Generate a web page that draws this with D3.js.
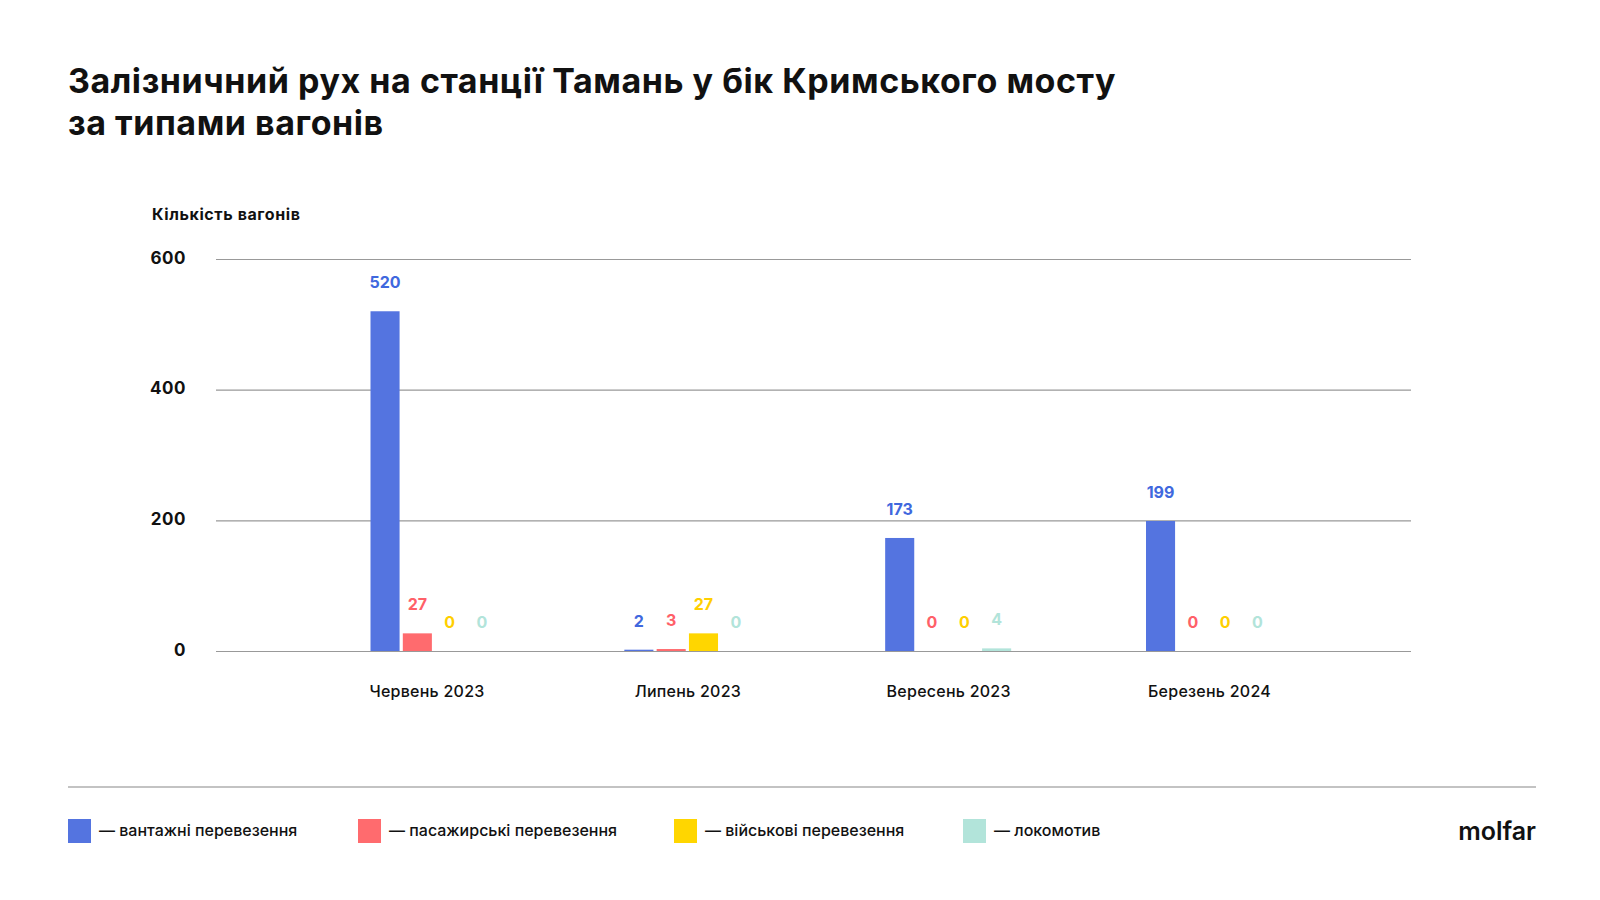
<!DOCTYPE html>
<meta charset="utf-8">
<style>
body { margin: 0; background: #fff; }
text { font-family: Inter, "Noto Sans", sans-serif; fill: #111; }
.title { font-size: 34px; font-weight: 700; letter-spacing: 0.55px; }
.axis-title { font-size: 16px; font-weight: 700; letter-spacing: 0.6px; }
.axis--y text { font-size: 17px; font-weight: 700; letter-spacing: 0.5px; }
.axis--y path, .axis--x path { display: none; }
.axis--x text { font-size: 16px; font-weight: 500; letter-spacing: 0.25px; }
.legend-label { font-size: 16px; font-weight: 500; }
.value { font-size: 16px; font-weight: 700; text-anchor: middle; }
.logo { font-size: 25px; font-weight: 600; }
</style>
<svg width="1600" height="900"></svg>
<script src="https://d3js.org/d3.v7.min.js"></script>
<script>

var titleLines = ["Залізничний рух на станції Тамань у бік Кримського мосту", "за типами вагонів"];
var yTitle = "Кількість вагонів";

var months = ["Червень 2023", "Липень 2023", "Вересень 2023", "Березень 2024"];
var yTicks = [0, 200, 400, 600];

var seriesNames = ["вантажні перевезення", "пасажирські перевезення", "військові перевезення", "локомотив"];
var freight = [520, 2, 173, 199];
var passenger = [27, 3, 0, 0];
var military = [0, 27, 0, 0];
var locomotive = [0, 0, 4, 0];

var barColors = ["#5474e0", "#ff6b6e", "#ffd600", "#b2e4da"];
var labelColors = ["#4068de", "#ff6068", "#ffcf00", "#b2e4da"];

var svg = d3.select("svg");

svg.selectAll(".title")
	.data(titleLines)
	.enter().append("text")
	.attr("class", "title")
	.attr("x", 68)
	.attr("y", function(d, i) { return 93 + i * 42; })
	.text(function(d) { return d; });

svg.append("text")
	.attr("class", "axis-title")
	.attr("x", 152)
	.attr("y", 220)
	.text(yTitle);

var plotLeft = 216, plotRight = 1411, plotTop = 259, plotBottom = 651;

var y = d3.scaleLinear().domain([0, 600]).range([plotBottom, plotTop]);

// category centres sit on an even step, scalePoint range is set from the label positions
var x = d3.scalePoint().domain(months).range([426.5, 1209]);

var inner = d3.scaleBand().domain(d3.range(4)).range([-63, 63]).paddingInner(0.1).paddingOuter(0);

var yAxis = svg.append("g")
	.attr("class", "axis axis--y")
	.attr("transform", "translate(" + plotLeft + ",0)")
	.call(d3.axisLeft(y).tickValues(yTicks).tickSize(-(plotRight - plotLeft)).tickPadding(30));
yAxis.selectAll("line").attr("stroke", "#999").attr("stroke-width", 1.2);
yAxis.selectAll("text").attr("dy", "0.25em");

var xAxis = svg.append("g")
	.attr("class", "axis axis--x")
	.attr("transform", "translate(0," + plotBottom + ")")
	.call(d3.axisBottom(x).tickSize(0).tickPadding(35));

var series = [freight, passenger, military, locomotive];

series.forEach(function(values, s) {
	var g = svg.append("g");
	months.forEach(function(m, i) {
		// the first group is shifted right of its label in the original
		var x0 = x(m) + inner(s) + (i === 0 ? 7 : 0);
		g.append("rect")
			.attr("x", x0)
			.attr("y", y(values[i]))
			.attr("width", inner.bandwidth())
			.attr("height", y(0) - y(values[i]))
			.attr("fill", barColors[s]);
		g.append("text")
			.attr("class", "value")
			.attr("x", x0 + inner.bandwidth() / 2)
			.attr("y", y(values[i]) - 23)
			.style("fill", labelColors[s])
			.text(values[i]);
	});
});

svg.append("line")
	.attr("x1", 68).attr("x2", 1536)
	.attr("y1", 787).attr("y2", 787)
	.attr("stroke", "#888").attr("stroke-width", 1.2);

var legendX = [68, 358, 674, 963];

var legend = svg.selectAll(".legend")
	.data(seriesNames)
	.enter().append("g")
	.attr("class", "legend")
	.attr("transform", function(d, i) { return "translate(" + legendX[i] + ",819)"; });

legend.append("rect")
	.attr("width", 23)
	.attr("height", 24)
	.attr("fill", function(d, i) { return barColors[i]; });

legend.append("text")
	.attr("class", "legend-label")
	.attr("x", 31)
	.attr("y", 17)
	.text(function(d) { return "— " + d; });

svg.append("text")
	.attr("class", "logo")
	.attr("x", 1536)
	.attr("y", 840)
	.attr("text-anchor", "end")
	.text("molfar");

</script>
